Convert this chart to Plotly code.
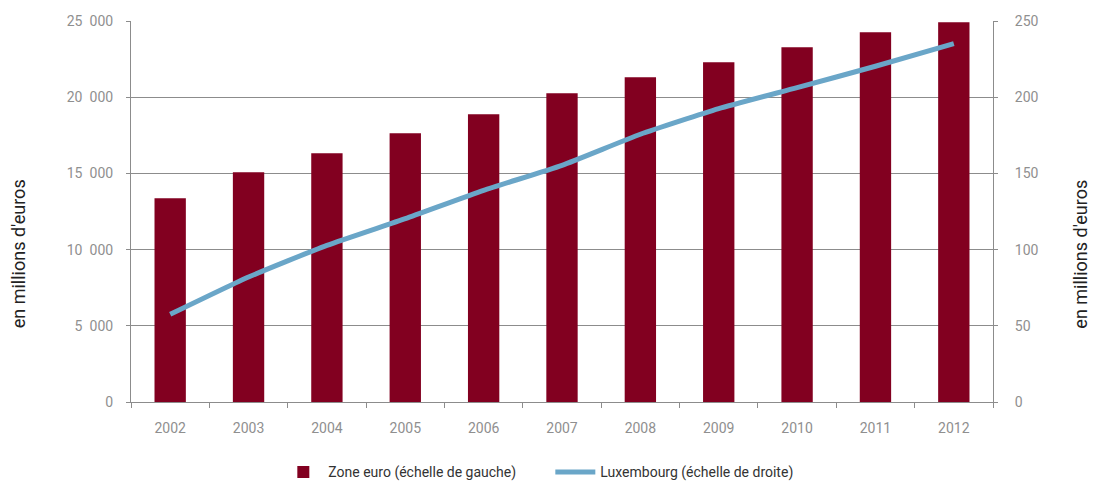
import plotly.graph_objects as go

years = ["2002", "2003", "2004", "2005", "2006", "2007", "2008", "2009", "2010", "2011", "2012"]
zone_euro = [13370, 15070, 16320, 17630, 18880, 20260, 21310, 22290, 23270, 24260, 24920]
luxembourg = [57.5, 82.0, 102.8, 120.3, 138.9, 155.3, 175.7, 192.5, 206.3, 220.3, 235.2]
left_ticks = [0, 5000, 10000, 15000, 20000, 25000]
left_tick_labels = ["0", "5\u2002000", "10\u2002000", "15\u2002000", "20\u2002000", "25\u2002000"]

bar_color = "#820020"
line_color = "#6aa6c8"
grid_color = "#8c8c8c"
tick_font = dict(family="Roboto, sans-serif", size=14, color="#8f8f8f")
title_font = dict(family="Roboto, sans-serif", size=18, color="#222222")

fig = go.Figure()
fig.add_trace(go.Bar(
    x=years, y=zone_euro, name="Zone euro (échelle de gauche)",
    marker=dict(color=bar_color, line=dict(width=0)), yaxis="y",
))
fig.add_trace(go.Scatter(
    x=years, y=luxembourg, name="Luxembourg (échelle de droite)",
    mode="lines", line=dict(color=line_color, width=5, shape="spline", smoothing=0.5),
    yaxis="y2",
))

fig.update_layout(
    width=1093, height=484,
    margin=dict(l=131, r=100, t=21, b=82, autoexpand=False),
    paper_bgcolor="white", plot_bgcolor="white",
    bargap=0.6,
    showlegend=True,
    legend=dict(orientation="h", xref="container", x=0.5035, xanchor="center",
                yref="container", y=0.024, yanchor="middle",
                font=dict(family="Roboto, sans-serif", size=14, color="#333333"),
                itemwidth=40, entrywidth=217, tracegroupgap=0),
    xaxis=dict(
        type="category", showgrid=False, showline=True, linecolor=grid_color, linewidth=1,
        ticks="outside", ticklen=5, tickcolor=grid_color, tickson="boundaries",
        tickfont=tick_font, zeroline=False, ticklabelstandoff=13, automargin=False,
    ),
    yaxis=dict(
        range=[0, 25000], tickvals=left_ticks, ticktext=left_tick_labels,
        showgrid=True, gridcolor=grid_color, gridwidth=1,
        showline=True, linecolor=grid_color, linewidth=1,
        ticks="outside", ticklen=4, tickcolor=grid_color,
        tickfont=tick_font, zeroline=False, ticklabelstandoff=10, automargin=False,
    ),
    yaxis2=dict(
        range=[0, 250], dtick=50, overlaying="y", side="right",
        showgrid=False, showline=True, linecolor=grid_color, linewidth=1,
        ticks="outside", ticklen=4, tickcolor=grid_color,
        tickfont=tick_font, zeroline=False, ticklabelstandoff=14, automargin=False,
    ),
    annotations=[
        dict(text="en millions d'euros", xref="paper", yref="paper",
             x=-0.131, y=0.388, textangle=-90, showarrow=False,
             xanchor="center", yanchor="middle", font=title_font),
        dict(text="en millions d'euros", xref="paper", yref="paper",
             x=1.1015, y=0.388, textangle=-90, showarrow=False,
             xanchor="center", yanchor="middle", font=title_font),
    ],
)

fig.write_html("out.html")
